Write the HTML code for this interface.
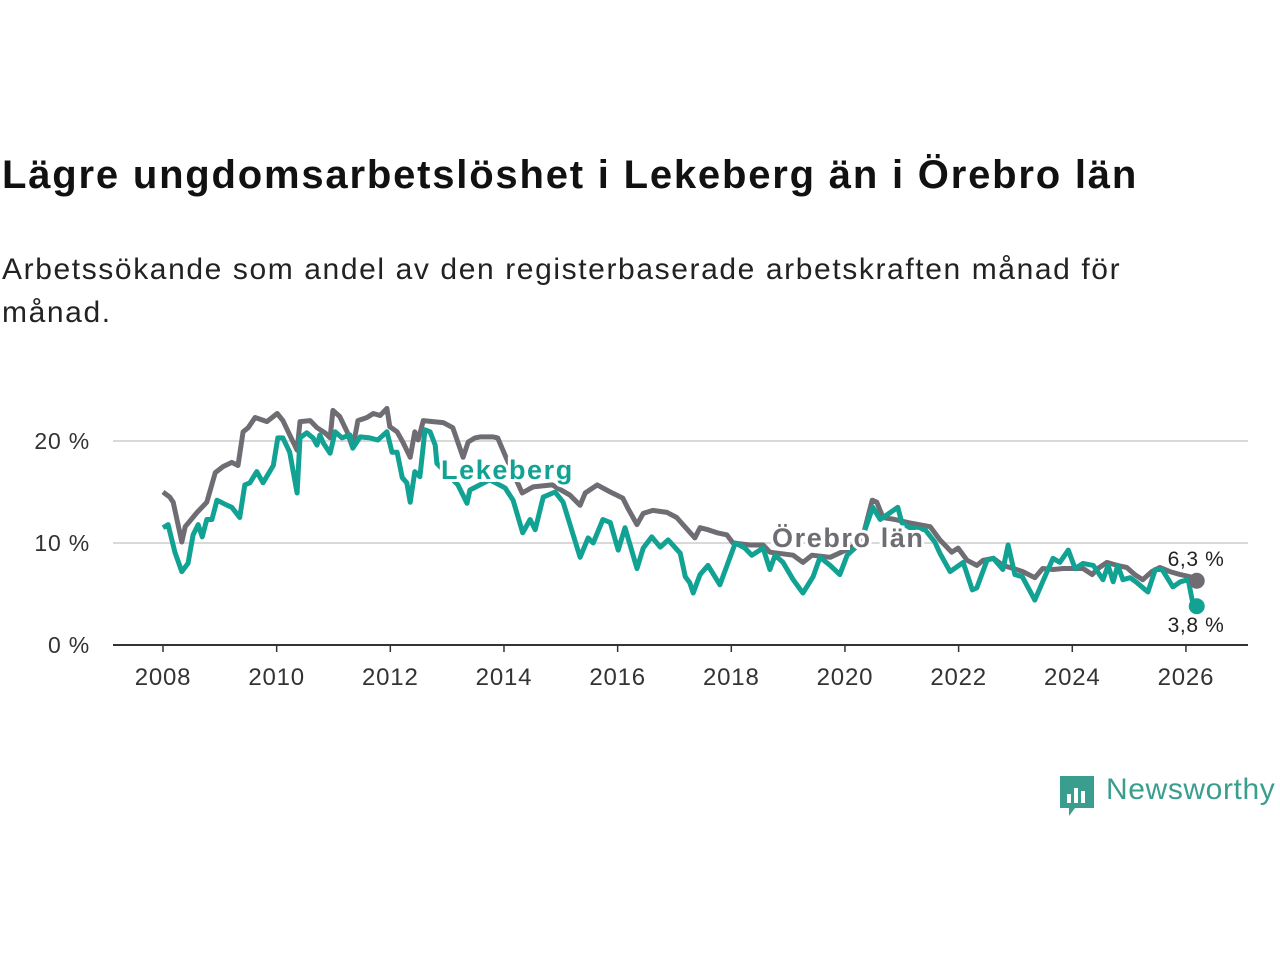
<!DOCTYPE html>
<html><head><meta charset="utf-8"><style>
html,body{margin:0;padding:0;background:#fff;width:1280px;height:960px;overflow:hidden;font-family:"Liberation Sans",sans-serif}
#title{position:absolute;left:2px;top:153px;font-size:40px;font-weight:bold;color:#111;margin:0;letter-spacing:1.8px;white-space:nowrap}
#sub{position:absolute;left:2px;top:248px;font-size:30px;line-height:43px;color:#222;width:1200px;letter-spacing:1.6px}
svg{position:absolute;left:0;top:0}
</style></head><body>
<h1 id="title">Lägre ungdomsarbetslöshet i Lekeberg än i Örebro län</h1>
<div id="sub">Arbetssökande som andel av den registerbaserade arbetskraften månad för månad.</div>
<svg id="chart" width="1280" height="960"></svg>
<div style="position:absolute;left:1059px;top:774px;height:44px;">
<svg width="40" height="44" style="position:absolute;left:0;top:0"><path d="M1 2h34v32H16l-6 8v-8H1z" fill="#3a9e8f"/><rect x="8" y="20" width="4" height="9" fill="#fff"/><rect x="15" y="14" width="4" height="15" fill="#fff"/><rect x="22" y="17" width="4" height="12" fill="#fff"/></svg>
<span style="position:absolute;left:47px;top:-1px;font-size:30px;letter-spacing:0.6px;color:#3a9e8f;white-space:nowrap">Newsworthy</span></div>
<script>
const gDates=[2008.00,2008.12,2008.18,2008.33,2008.39,2008.60,2008.77,2008.92,2009.06,2009.21,2009.32,2009.41,2009.50,2009.62,2009.83,2010.01,2010.11,2010.23,2010.36,2010.41,2010.59,2010.71,2010.85,2010.94,2010.99,2011.11,2011.24,2011.34,2011.43,2011.59,2011.70,2011.82,2011.94,2011.99,2012.12,2012.22,2012.35,2012.43,2012.49,2012.58,2012.75,2012.93,2013.10,2013.28,2013.37,2013.49,2013.58,2013.81,2013.89,2014.02,2014.32,2014.51,2014.85,2015.16,2015.34,2015.43,2015.64,2015.87,2016.09,2016.18,2016.34,2016.45,2016.62,2016.87,2017.04,2017.15,2017.36,2017.45,2017.59,2017.75,2017.92,2018.03,2018.33,2018.56,2018.68,2019.09,2019.26,2019.42,2019.74,2020.09,2020.30,2020.48,2020.56,2020.67,2020.88,2021.11,2021.50,2021.67,2021.88,2021.99,2022.15,2022.32,2022.43,2022.61,2022.78,2022.96,2023.13,2023.34,2023.48,2023.66,2023.84,2024.01,2024.19,2024.35,2024.45,2024.61,2024.79,2024.96,2025.10,2025.24,2025.40,2025.54,2025.72,2025.90,2026.07,2026.19];
const gValues=[15,14.5,14,10.1,11.6,13,14,16.9,17.5,17.9,17.6,20.9,21.3,22.3,21.9,22.7,22,20.6,19.1,21.9,22,21.3,20.8,20.3,23,22.4,20.9,19.3,22,22.3,22.7,22.5,23.2,21.4,20.9,19.9,18.4,20.9,20.1,22,21.9,21.8,21.3,18.4,19.9,20.3,20.4,20.4,20.3,18.6,14.9,15.5,15.7,14.7,13.7,14.9,15.7,15,14.4,13.4,11.8,12.9,13.2,13,12.5,11.8,10.5,11.5,11.3,11,10.8,10,9.8,9.8,9.1,8.8,8.1,8.8,8.6,9.5,10.3,14.2,14,12.5,12.3,12,11.6,10.3,9.1,9.5,8.3,7.8,8.3,8.5,7.8,7.5,7.2,6.6,7.5,7.4,7.5,7.5,7.5,6.9,7.5,8.1,7.8,7.6,6.9,6.4,7.2,7.6,7.2,6.9,6.7,6.3];
const tDates=[2008.00,2008.09,2008.21,2008.33,2008.44,2008.53,2008.62,2008.69,2008.77,2008.86,2008.95,2009.13,2009.21,2009.35,2009.44,2009.53,2009.65,2009.76,2009.94,2010.02,2010.11,2010.23,2010.36,2010.41,2010.53,2010.64,2010.71,2010.76,2010.82,2010.94,2011.03,2011.15,2011.29,2011.34,2011.47,2011.64,2011.78,2011.94,2012.03,2012.12,2012.21,2012.29,2012.35,2012.43,2012.52,2012.61,2012.70,2012.79,2012.82,2013.19,2013.35,2013.40,2013.75,2014.02,2014.16,2014.33,2014.46,2014.55,2014.69,2014.90,2015.04,2015.34,2015.48,2015.57,2015.74,2015.87,2016.01,2016.13,2016.34,2016.45,2016.60,2016.75,2016.89,2017.10,2017.19,2017.27,2017.33,2017.45,2017.59,2017.80,2018.07,2018.24,2018.36,2018.56,2018.68,2018.77,2018.91,2019.09,2019.26,2019.44,2019.56,2019.74,2019.91,2020.04,2020.27,2020.49,2020.62,2020.93,2021.00,2021.14,2021.41,2021.58,2021.67,2021.85,2022.08,2022.24,2022.32,2022.50,2022.61,2022.78,2022.87,2022.99,2023.12,2023.34,2023.47,2023.66,2023.78,2023.93,2024.05,2024.19,2024.37,2024.54,2024.63,2024.72,2024.80,2024.89,2025.02,2025.14,2025.33,2025.46,2025.58,2025.77,2025.90,2026.04,2026.12,2026.19];
const tValues=[11.5,11.8,9.1,7.2,8,10.8,11.8,10.6,12.3,12.3,14.2,13.7,13.5,12.5,15.7,15.9,17,15.9,17.6,20.3,20.3,18.9,14.9,20.3,20.8,20.3,19.6,20.6,19.8,18.8,20.9,20.3,20.6,19.3,20.4,20.3,20.1,20.9,18.9,18.9,16.4,15.9,14,17,16.5,21.1,20.9,19.6,17.8,15.7,13.9,15.2,16.2,15.4,14.2,11,12.3,11.3,14.5,15,14,8.6,10.5,10,12.3,12,9.3,11.5,7.5,9.5,10.6,9.6,10.3,9,6.7,6.1,5.1,6.9,7.8,5.9,10,9.5,8.8,9.5,7.4,8.8,8.1,6.4,5.1,6.7,8.6,7.8,6.9,8.8,10,13.5,12.3,13.5,12,11.5,11.3,10.1,9,7.2,8.1,5.4,5.6,8.3,8.5,7.4,9.8,6.9,6.7,4.4,6.1,8.5,8.1,9.3,7.5,8.0,7.8,6.4,7.8,6.2,7.8,6.4,6.6,6.1,5.2,7.4,7.4,5.7,6.2,6.4,4.1,3.8];
const yTicks=[0,10,20];
const yTickLabels=["0 %","10 %","20 %"];
const xTicks=[2008,2010,2012,2014,2016,2018,2020,2022,2024,2026];
const lastLabels=["6,3 %","3,8 %"];

const NS="http://www.w3.org/2000/svg";
const svg=document.getElementById('chart');
const X=y=>163+(y-2008)*56.83;
const Y=v=>645-v*10.2;
function el(t,a,txt){const e=document.createElementNS(NS,t);for(const k in a)e.setAttribute(k,a[k]);if(txt!==undefined)e.textContent=txt;svg.appendChild(e);return e;}
yTicks.forEach((v,i)=>{
  if(v>0){const g=el('line',{x1:113,x2:1248,y1:Y(v),y2:Y(v),stroke:'#d9d9d9','stroke-width':2});
  
  }
  const t=el('text',{x:90,y:Y(v)+8,'text-anchor':'end','font-size':23,'letter-spacing':0.8,fill:'#333'},yTickLabels[i]);
  
  
});
const ax=el('line',{x1:113,x2:1248,y1:645,y2:645,stroke:'#333','stroke-width':2});


xTicks.forEach(yr=>{
  const tk=el('line',{x1:X(yr),x2:X(yr),y1:645,y2:652,stroke:'#333','stroke-width':1.5});
  
  
  const t=el('text',{x:X(yr),y:685,'text-anchor':'middle','font-size':24,'letter-spacing':0.8,fill:'#333'},String(yr));
  
  
});
function line(ds,vs,col,name){
  const d=ds.map((t,i)=>(i?'L':'M')+X(t).toFixed(1)+','+Y(vs[i]).toFixed(1)).join('');
  const p=el('path',{d:d,fill:'none',stroke:col,'stroke-width':5,'stroke-linejoin':'round'});
  
  
}
line(gDates,gValues,'#6f6d73','line-orebro-lan');
line(tDates,tValues,'#12a294','line-lekeberg');
const gd=el('circle',{cx:X(gDates[gDates.length-1]),cy:Y(gValues[gValues.length-1]),r:8,fill:'#6f6d73'});


const td=el('circle',{cx:X(tDates[tDates.length-1]),cy:Y(tValues[tValues.length-1]),r:8,fill:'#12a294'});


const l1=el('text',{x:1196,y:566,'text-anchor':'middle','font-size':21,'letter-spacing':0.6,fill:'#222',stroke:'#fff','stroke-width':4,'paint-order':'stroke'},lastLabels[0]);


const l2=el('text',{x:1196,y:632,'text-anchor':'middle','font-size':21,'letter-spacing':0.6,fill:'#222',stroke:'#fff','stroke-width':4,'paint-order':'stroke'},lastLabels[1]);


const s1=el('text',{x:441,y:479,'font-size':27,'letter-spacing':1.6,'font-weight':'bold',fill:'#12a294',stroke:'#fff','stroke-width':6,'paint-order':'stroke'},'Lekeberg');


const s2=el('text',{x:772,y:547,'font-size':27,'letter-spacing':1.6,'font-weight':'bold',fill:'#6f6d73',stroke:'#fff','stroke-width':6,'paint-order':'stroke'},'Örebro län');


</script>
</body></html>
